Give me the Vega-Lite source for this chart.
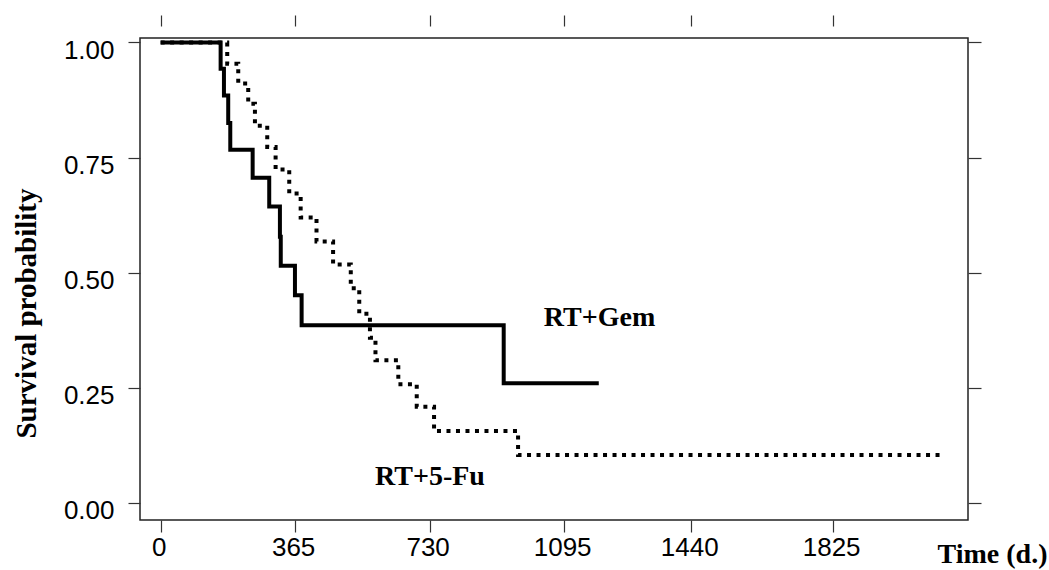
{
  "$schema": "https://vega.github.io/schema/vega-lite/v6.json",
  "width": 828,
  "height": 482,
  "autosize": "none",
  "padding": {"left": 140, "top": 38, "right": 81, "bottom": 50},
  "background": "white",
  "config": {
    "view": {"stroke": "#222", "strokeWidth": 1.5},
    "axis": {"grid": false, "domain": false, "tickColor": "#333", "tickWidth": 1.2, "labelColor": "black", "titleColor": "black", "labelFlush": false, "labelOverlap": false, "labelBound": false}
  },
  "resolve": {"axis": {"x": "independent", "y": "independent"}},
  "layer": [
    {
      "data": {"values": [
        {"group": "RT+Gem", "day": 0, "surv": 1.0},
        {"group": "RT+Gem", "day": 162.8, "surv": 0.943},
        {"group": "RT+Gem", "day": 171.8, "surv": 0.885},
        {"group": "RT+Gem", "day": 183.4, "surv": 0.825},
        {"group": "RT+Gem", "day": 189, "surv": 0.767},
        {"group": "RT+Gem", "day": 249.7, "surv": 0.706},
        {"group": "RT+Gem", "day": 294.7, "surv": 0.644},
        {"group": "RT+Gem", "day": 323.7, "surv": 0.578},
        {"group": "RT+Gem", "day": 326, "surv": 0.515},
        {"group": "RT+Gem", "day": 364.5, "surv": 0.451},
        {"group": "RT+Gem", "day": 382.6, "surv": 0.386},
        {"group": "RT+Gem", "day": 931, "surv": 0.26},
        {"group": "RT+Gem", "day": 1189, "surv": 0.26},
        {"group": "RT+5-Fu", "day": 0, "surv": 1.0},
        {"group": "RT+5-Fu", "day": 180.7, "surv": 0.954},
        {"group": "RT+5-Fu", "day": 210.6, "surv": 0.911},
        {"group": "RT+5-Fu", "day": 237.7, "surv": 0.867},
        {"group": "RT+5-Fu", "day": 255.9, "surv": 0.819},
        {"group": "RT+5-Fu", "day": 289.3, "surv": 0.773},
        {"group": "RT+5-Fu", "day": 312, "surv": 0.724},
        {"group": "RT+5-Fu", "day": 349, "surv": 0.672},
        {"group": "RT+5-Fu", "day": 380, "surv": 0.62},
        {"group": "RT+5-Fu", "day": 423, "surv": 0.568},
        {"group": "RT+5-Fu", "day": 468, "surv": 0.518},
        {"group": "RT+5-Fu", "day": 516, "surv": 0.466},
        {"group": "RT+5-Fu", "day": 539, "surv": 0.411},
        {"group": "RT+5-Fu", "day": 568, "surv": 0.359},
        {"group": "RT+5-Fu", "day": 583, "surv": 0.31},
        {"group": "RT+5-Fu", "day": 645, "surv": 0.258},
        {"group": "RT+5-Fu", "day": 695, "surv": 0.209},
        {"group": "RT+5-Fu", "day": 742, "surv": 0.156},
        {"group": "RT+5-Fu", "day": 970, "surv": 0.104},
        {"group": "RT+5-Fu", "day": 2124, "surv": 0.104}
      ]},
      "mark": {"type": "line", "interpolate": "step-after", "strokeWidth": 4, "strokeCap": "butt", "color": "black"},
      "encoding": {
        "x": {
          "field": "day", "type": "quantitative",
          "scale": {"domain": [-56, 2191], "nice": false, "zero": false},
          "axis": {
            "orient": "bottom", "values": [0, 365, 730, 1095, 1440, 1825], "format": "d",
            "tickSize": 12, "labelFont": "Liberation Sans", "labelFontSize": 26, "labelBaseline": "alphabetic",
            "labelPadding": 23, "labelOffset": -2,
            "title": "Time (d.)", "titleFont": "Liberation Serif", "titleFontWeight": "bold", "titleFontSize": 28,
            "titleX": 907, "titleY": 42, "titleAlign": "right", "titleBaseline": "alphabetic"
          }
        },
        "y": {
          "field": "surv", "type": "quantitative",
          "scale": {"domain": [-0.037, 1.0097], "nice": false, "zero": false},
          "axis": {
            "orient": "left", "values": [0, 0.25, 0.5, 0.75, 1], "format": ".2f",
            "tickSize": 12, "labelFont": "Liberation Sans", "labelFontSize": 26, "labelBaseline": "alphabetic",
            "labelPadding": 14, "labelOffset": 16,
            "title": "Survival probability", "titleFont": "Liberation Serif", "titleFontWeight": "bold", "titleFontSize": 29,
            "titleX": -105, "titleY": 275, "titleAngle": 270, "titleAlign": "center", "titleBaseline": "alphabetic"
          }
        },
        "strokeDash": {
          "field": "group", "type": "nominal",
          "scale": {"domain": ["RT+Gem", "RT+5-Fu"], "range": [[1, 0], [4, 5.5]]},
          "legend": null
        }
      }
    },
    {
      "data": {"values": [
        {"label": "RT+Gem", "day": 1191, "surv": 0.384},
        {"label": "RT+5-Fu", "day": 731, "surv": 0.039}
      ]},
      "mark": {"type": "text", "font": "Liberation Serif", "fontWeight": "bold", "fontSize": 28, "align": "center", "baseline": "alphabetic", "color": "black"},
      "encoding": {
        "x": {
          "field": "day", "type": "quantitative",
          "axis": {"orient": "top", "values": [0, 365, 730, 1095, 1440, 1825], "labels": false, "offset": 12, "tickSize": 11, "title": null}
        },
        "y": {
          "field": "surv", "type": "quantitative",
          "axis": {"orient": "right", "values": [0, 0.25, 0.5, 0.75, 1], "labels": false, "tickSize": 13, "title": null}
        },
        "text": {"field": "label", "type": "nominal"}
      }
    }
  ]
}
